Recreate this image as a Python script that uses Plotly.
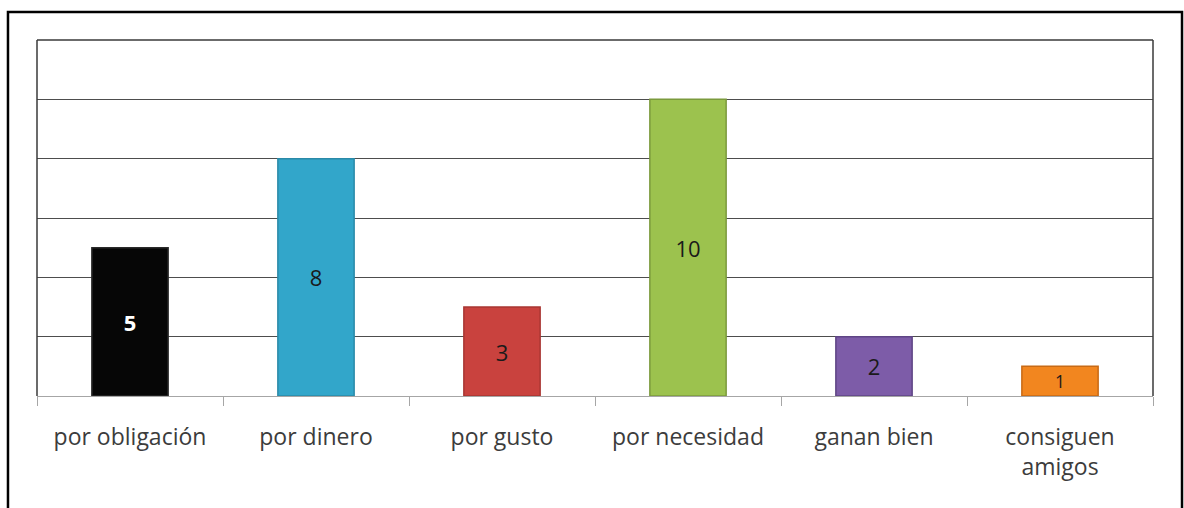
import plotly.graph_objects as go

categories = ["por obligación", "por dinero", "por gusto", "por necesidad",
              "ganan bien", "consiguen<br>amigos"]
values = [5, 8, 3, 10, 2, 1]
bar_colors = ["#060606", "#32a6ca", "#c9423e", "#9cc24e", "#7d5ca8", "#f2861f"]
edge_colors = ["#2a2a2a", "#2a8aa8", "#a83632", "#7b9a3c", "#5f4585", "#c86a15"]
label_colors = ["#ffffff", "#1a1a1a", "#1a1a1a", "#1a1a1a", "#1a1a1a", "#1a1a1a"]
label_text = ["<b>5</b>", "8", "3", "10", "2", "1"]

FONT = "Open Sans, sans-serif"

fig = go.Figure()
fig.add_trace(go.Bar(
    x=categories, y=values,
    width=0.41,
    marker=dict(color=bar_colors, line=dict(color=edge_colors, width=1.5)),
    text=label_text, textposition="inside", insidetextanchor="middle",
    textfont=dict(family=FONT, size=22, color=label_colors),
    textangle=0, hoverinfo="skip", showlegend=False,
))

# plot-area borders and outer chart frame
for x0, x1, y0, y1 in [(0, 0, 0, 1), (1, 1, 0, 1), (0, 1, 1, 1)]:
    fig.add_shape(type="line", xref="paper", yref="paper",
                  x0=x0, x1=x1, y0=y0, y1=y1,
                  line=dict(color="#3a3a3a", width=1.5))
fig.add_shape(type="rect", xref="paper", yref="paper",
              x0=-0.026, x1=1.026, y0=-0.6, y1=1.079,
              line=dict(color="black", width=2.5), layer="below")

fig.update_xaxes(
    showgrid=False, showline=True, linecolor="#a6a6a6", linewidth=1,
    ticks="outside", tickson="boundaries", ticklen=9, tickcolor="#a6a6a6",
    tickfont=dict(family=FONT, size=23, color="#3c3c3c"),
    ticklabelstandoff=20,
    tickangle=0, fixedrange=True,
)
fig.update_yaxes(
    range=[0, 12], dtick=2, showgrid=True, gridcolor="#4d4d4d", gridwidth=1,
    showticklabels=False, zeroline=False, showline=False, fixedrange=True,
)

fig.update_layout(
    width=1184, height=508,
    margin=dict(l=37, r=31, t=40, b=112),
    paper_bgcolor="white", plot_bgcolor="white",
)

# drop the default page margin so the chart fills the window exactly
fig.write_html(
    "out.html",
    config={"displayModeBar": False},
    post_script="document.body.style.margin='0';document.body.style.overflow='hidden';",
)
